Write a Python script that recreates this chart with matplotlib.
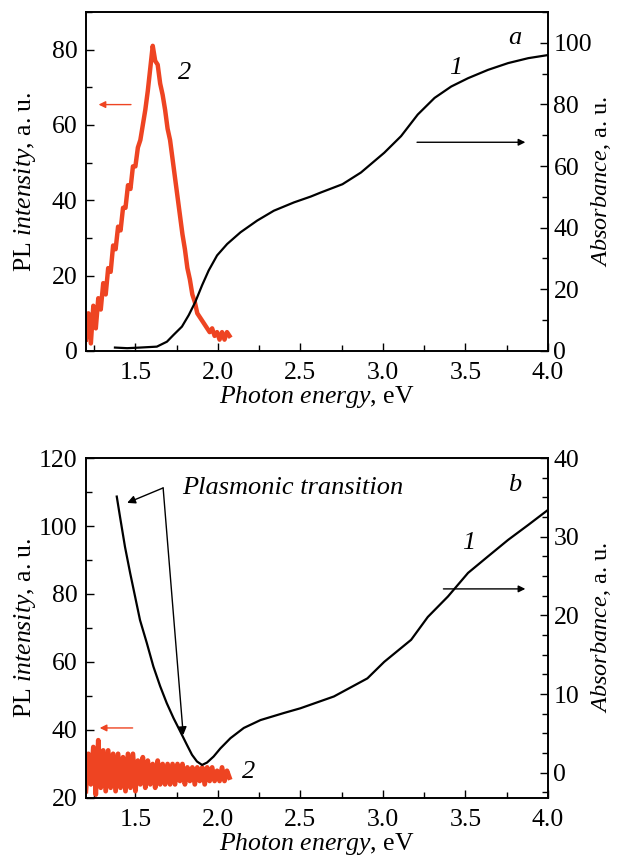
import matplotlib
matplotlib.use('Agg')
import matplotlib.pyplot as plt
from matplotlib.ticker import MultipleLocator

plt.rcParams['font.family'] = ['Liberation Serif', 'DejaVu Serif']
plt.rcParams['mathtext.fontset'] = 'custom'
plt.rcParams['mathtext.rm'] = 'Liberation Serif'
plt.rcParams['mathtext.it'] = 'Liberation Serif:italic'
plt.rcParams['font.size'] = 18.5

red = '#ee4422'

# PL spectra share one energy grid
pl_energy = [1.200, 1.215, 1.230, 1.245, 1.260, 1.275, 1.290, 1.305, 1.320, 1.335,
             1.350, 1.365, 1.380, 1.395, 1.410, 1.425, 1.440, 1.455, 1.470, 1.485,
             1.500, 1.515, 1.530, 1.545, 1.560, 1.575, 1.590, 1.605, 1.620, 1.635,
             1.650, 1.665, 1.680, 1.695, 1.710, 1.725, 1.740, 1.755, 1.770, 1.785,
             1.800, 1.815, 1.830, 1.845, 1.860, 1.875, 1.890, 1.905, 1.920, 1.935,
             1.950, 1.965, 1.980, 1.995, 2.010, 2.025, 2.040, 2.055, 2.070]

pl_a = [3, 10, 2, 12, 6, 14, 11, 18, 15, 22,
        21, 28, 27, 33, 32, 38, 38, 44, 43, 49,
        49, 54, 56, 60, 64, 69, 75, 81, 77, 76,
        71, 68, 64, 59, 56, 51, 46, 41, 36, 31,
        27, 22, 19, 15, 13, 10, 9, 8, 7, 6,
        5, 6, 4, 5, 3, 5, 3, 5, 4]

pl_b = [22, 33, 24, 35, 21, 37, 23, 34, 22, 34,
        23, 33, 22, 33, 23, 32, 22, 33, 23, 33,
        22, 31, 24, 32, 23, 31, 24, 30, 23, 31,
        24, 30, 24, 30, 24, 30, 24, 30, 25, 30,
        24, 29, 25, 29, 24, 29, 25, 29, 24, 29,
        25, 29, 25, 28, 25, 29, 25, 28, 26]

# absorbance, panel a
abs_a_energy = [1.376, 1.45, 1.528, 1.63, 1.691, 1.731, 1.782, 1.823, 1.863, 1.904,
                1.944, 1.995, 2.056, 2.137, 2.238, 2.339, 2.461, 2.563, 2.623, 2.755,
                2.867, 3.008, 3.110, 3.211, 3.313, 3.414, 3.516, 3.637, 3.759, 3.881,
                4.0]
abs_a = [1.1, 0.9, 1.1, 1.4, 3.0, 5.2, 7.9, 11.6, 15.9, 21.3,
         26.1, 31.0, 34.7, 38.5, 42.3, 45.5, 48.2, 50.1, 51.4, 54.1,
         57.9, 64.3, 69.7, 76.7, 82.1, 85.8, 88.5, 91.2, 93.4, 95.0,
         96.0]

# absorbance, panel b
abs_b_energy = [1.387, 1.407, 1.437, 1.468, 1.498, 1.528, 1.569, 1.609, 1.650, 1.690,
                1.731, 1.772, 1.812, 1.843, 1.873, 1.904, 1.934, 1.974, 2.015, 2.076,
                2.157, 2.258, 2.40, 2.50, 2.703, 2.906, 3.008, 3.171, 3.272, 3.394,
                3.516, 3.637, 3.759, 3.881, 4.0]
abs_b = [35.1, 32.5, 28.7, 25.4, 22.4, 19.4, 16.5, 13.5, 11.0, 8.85,
         6.95, 5.25, 3.56, 2.29, 1.44, 1.0, 1.3, 2.07, 3.1, 4.4,
         5.7, 6.7, 7.6, 8.2, 9.7, 12.0, 14.1, 16.9, 19.8, 22.4,
         25.4, 27.5, 29.6, 31.5, 33.4]

fig = plt.figure(figsize=(6.18, 8.64), dpi=100)
ax1 = fig.add_axes([0.139, 0.5938, 0.7476, 0.3924])
ax2 = fig.add_axes([0.139, 0.0764, 0.7476, 0.3935])


def style(ax, axr):
    ax.set_xlim(1.2, 4.0)
    ax.xaxis.set_major_locator(MultipleLocator(0.5))
    ax.xaxis.set_minor_locator(MultipleLocator(0.25))
    ax.tick_params(which='both', direction='in', top=False, right=False, width=1)
    ax.tick_params(which='major', length=6)
    ax.tick_params(which='minor', length=4)
    ax.tick_params(axis='x', pad=8)
    ax.tick_params(axis='y', pad=6)
    axr.tick_params(which='both', direction='in', width=1, pad=4)
    axr.tick_params(which='major', length=6)
    axr.tick_params(which='minor', length=4)
    for a in (ax, axr):
        for s in a.spines.values():
            s.set_linewidth(1.2)
    ax.set_xlabel(r'$\it{Photon\ energy}$, eV', labelpad=0)
    ax.set_ylabel(r'PL $\it{intensity}$, a. u.')
    axr.set_ylabel(r'$\it{Absorbance}$, a. u.', fontsize=17.5)
    ax.yaxis.set_label_coords(-0.104, 0.5)
    axr.yaxis.set_label_coords(1.088, 0.5)


# panel a
ax1r = ax1.twinx()
ax1.plot(pl_energy, pl_a, color=red, lw=3.2)
ax1r.plot(abs_a_energy, abs_a, color='black', lw=1.6)
ax1.set_ylim(0, 90)
ax1.yaxis.set_major_locator(MultipleLocator(20))
ax1.yaxis.set_minor_locator(MultipleLocator(10))
ax1r.set_ylim(0, 110)
ax1r.yaxis.set_major_locator(MultipleLocator(20))
ax1r.yaxis.set_minor_locator(MultipleLocator(10))
style(ax1, ax1r)
ax1.annotate('', xy=(1.26, 65.4), xytext=(1.49, 65.4),
             arrowprops=dict(arrowstyle='-|>', color=red, lw=1, mutation_scale=10))
ax1.annotate('', xy=(3.88, 55.4), xytext=(3.19, 55.4),
             arrowprops=dict(arrowstyle='-|>', color='black', lw=1, mutation_scale=10))
ax1.text(3.80, 83.2, 'a', style='italic', fontsize=19, ha='center', va='center')
ax1.text(3.44, 75.2, '1', style='italic', fontsize=19, ha='center', va='center')
ax1.text(1.80, 73.9, '2', style='italic', fontsize=19, ha='center', va='center')

# panel b
ax2r = ax2.twinx()
ax2.plot(pl_energy, pl_b, color=red, lw=3.4)
ax2r.plot(abs_b_energy, abs_b, color='black', lw=1.6)
ax2.set_ylim(20, 120)
ax2.yaxis.set_major_locator(MultipleLocator(20))
ax2.yaxis.set_minor_locator(MultipleLocator(10))
ax2r.set_ylim(-3.2, 40)
ax2r.yaxis.set_major_locator(MultipleLocator(10))
ax2r.yaxis.set_minor_locator(MultipleLocator(2.5))
style(ax2, ax2r)
ax2.annotate('', xy=(1.267, 40.6), xytext=(1.50, 40.6),
             arrowprops=dict(arrowstyle='-|>', color=red, lw=1, mutation_scale=10))
ax2.annotate('', xy=(3.88, 81.5), xytext=(3.35, 81.5),
             arrowprops=dict(arrowstyle='-|>', color='black', lw=1, mutation_scale=10))
ax2.annotate('', xy=(1.45, 106.8), xytext=(1.668, 111.2),
             arrowprops=dict(arrowstyle='-|>', color='black', lw=1, mutation_scale=12,
                             shrinkA=0, shrinkB=0))
ax2.annotate('', xy=(1.79, 38.5), xytext=(1.668, 111.2),
             arrowprops=dict(arrowstyle='-|>', color='black', lw=1, mutation_scale=12,
                             shrinkA=0, shrinkB=0))
ax2.text(1.784, 111.2, 'Plasmonic transition', style='italic', fontsize=19,
         ha='left', va='center')
ax2.text(3.80, 112, 'b', style='italic', fontsize=19, ha='center', va='center')
ax2.text(3.52, 95, '1', style='italic', fontsize=19, ha='center', va='center')
ax2.text(2.185, 27.6, '2', style='italic', fontsize=19, ha='center', va='center')

fig.savefig('out.png', dpi=100)
